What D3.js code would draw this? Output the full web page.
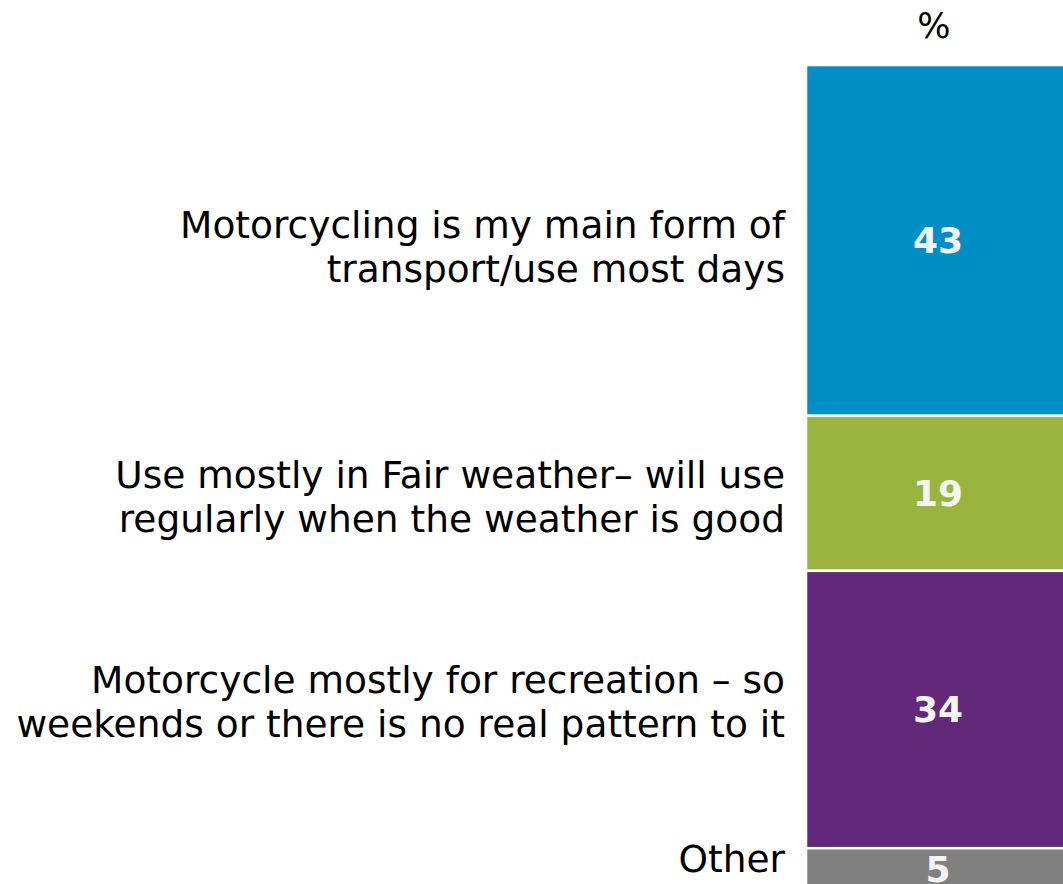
<!DOCTYPE html>
<html>
<head>
<meta charset="utf-8">
<script src="https://cdn.jsdelivr.net/npm/d3@7"></script>
<style>
  html, body { margin: 0; padding: 0; background: #fff; overflow: hidden; }
  svg { display: block; font-family: "DejaVu Sans", Verdana, sans-serif; }
</style>
</head>
<body>
<div id="chart"></div>
<script>
var svgWidth = 1063;
var svgHeight = 884;

// data
var categories = [
  ["Motorcycling is my main form of", "transport/use most days"],
  ["Use mostly in Fair weather\u2013 will use", "regularly when the weather is good"],
  ["Motorcycle mostly for recreation \u2013 so", "weekends or there is no real pattern to it"],
  ["Other"]
];
var values = [43, 19, 34, 5];
var colors = ["#008fc5", "#9bb53c", "#62287a", "#808080"];
var unitLabel = "%";

// small vertical nudges for the category labels (px)
var labelNudge = [7, 4, -8, -10];

var svg = d3.select("#chart")
  .append("svg")
  .attr("width", svgWidth)
  .attr("height", svgHeight);

// stack the values
var stacked = [];
var run = 0;
for (var i = 0; i < values.length; i++) {
  stacked.push({ v: values[i], y0: run, y1: run + values[i], label: categories[i], color: colors[i] });
  run += values[i];
}

var y = d3.scaleLinear()
  .domain([0, d3.sum(values)])
  .range([65, 889]);

var barX = 806;
var barW = 264;

svg.selectAll("rect.seg")
  .data(stacked)
  .enter()
  .append("rect")
  .attr("class", "seg")
  .attr("x", barX)
  .attr("y", function(d) { return y(d.y0); })
  .attr("width", barW)
  .attr("height", function(d) { return y(d.y1) - y(d.y0); })
  .attr("fill", function(d) { return d.color; })
  .attr("stroke", "#fff")
  .attr("stroke-width", 2.5);

// value labels
svg.selectAll("text.val")
  .data(stacked)
  .enter()
  .append("text")
  .attr("class", "val")
  .attr("x", barX + barW / 2)
  .attr("y", function(d) { return (y(d.y0) + y(d.y1)) / 2; })
  .attr("dy", "0.36em")
  .attr("text-anchor", "middle")
  .attr("font-size", "36px")
  .attr("font-weight", "bold")
  .attr("fill", "#f4f4f4")
  .text(function(d) { return d.v; });

// category labels
var lineH = 44;
var labels = svg.selectAll("text.cat")
  .data(stacked)
  .enter()
  .append("text")
  .attr("class", "cat")
  .attr("text-anchor", "end")
  .attr("font-size", "37.5px")
  .attr("fill", "#000")
  .attr("transform", function(d, i) {
    var mid = (y(d.y0) + y(d.y1)) / 2;
    var n = d.label.length;
    var first = mid + 13 - (n - 1) * lineH / 2 + labelNudge[i];
    return "translate(785," + first + ")";
  });

labels.selectAll("tspan")
  .data(function(d) { return d.label; })
  .enter()
  .append("tspan")
  .attr("x", 0)
  .attr("y", function(d, j) { return j * lineH; })
  .text(function(d) { return d; });

// unit label on top
svg.append("text")
  .attr("x", 934)
  .attr("y", 38)
  .attr("text-anchor", "middle")
  .attr("font-size", "35px")
  .attr("fill", "#000")
  .text(unitLabel);
</script>
</body>
</html>
